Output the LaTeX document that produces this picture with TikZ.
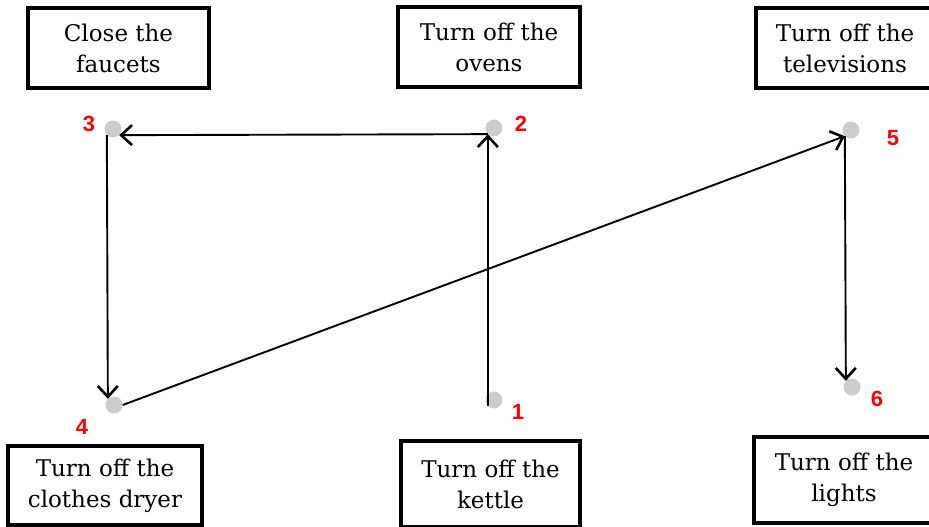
\documentclass[tikz,border=0pt]{standalone}
\usepackage{fontspec}
\setmainfont{DejaVu Serif}
\newfontfamily\numfont{Liberation Sans}
\usetikzlibrary{arrows.meta}
\begin{document}
\begin{tikzpicture}[x=1pt,y=-1pt,
  task/.style={draw,line width=3.5pt,align=center,inner sep=0pt,
    font=\fontsize{23}{31}\selectfont},
  spot/.style={circle,fill=black!20,inner sep=0pt,minimum size=17pt},
  num/.style={text=red,font=\numfont\bfseries\fontsize{22}{22}\selectfont},
  step line/.style={line width=1.9pt,-{Straight Barb[length=11pt,width=20pt,line width=2.6pt]}}]
\useasboundingbox (0,0) rectangle (929,527);
\clip (0,0) rectangle (929,527);

% boxes
\node[task,minimum width=181pt,minimum height=80pt] (faucets) at (118.5,48) {Close the\\faucets};
\node[task,minimum width=182pt,minimum height=80pt] (ovens) at (489,47) {Turn off the\\ovens};
\node[task,minimum width=178pt,minimum height=80pt] (tv) at (845,48) {Turn off the\\televisions};
\node[task,minimum width=194pt,minimum height=79pt] (dryer) at (105,485.5) {Turn off the\\clothes dryer};
\node[task,minimum width=179pt,minimum height=86pt] (kettle) at (490.5,484) {Turn off the\\kettle};
\node[task,minimum width=180pt,minimum height=86pt] (lights) at (844,480) {Turn off the\\lights};

% dots and their numbers
\node[spot] (d1) at (494,400) {};
\node[spot] (d2) at (494,128) {};
\node[spot] (d3) at (113,129) {};
\node[spot] (d4) at (114,405) {};
\node[spot] (d5) at (851,130) {};
\node[spot] (d6) at (852,387) {};
\node[num] (n1) at (518,412) {1};
\node[num] (n2) at (521,124) {2};
\node[num] (n3) at (89,124) {3};
\node[num] (n4) at (82,427) {4};
\node[num] (n5) at (893,138) {5};
\node[num] (n6) at (877,399) {6};

% order
\draw[step line] (d1.south west) -- (d2.south west);
\draw[step line] (d2.south west) -- (d3.south east);
\draw[step line] (d3.south west) -- (d4.north west);
\draw[step line] (d4.east) -- (d5.south west);
\draw[step line] (d5.south west) -- (d6.north west);
\end{tikzpicture}
\end{document}
